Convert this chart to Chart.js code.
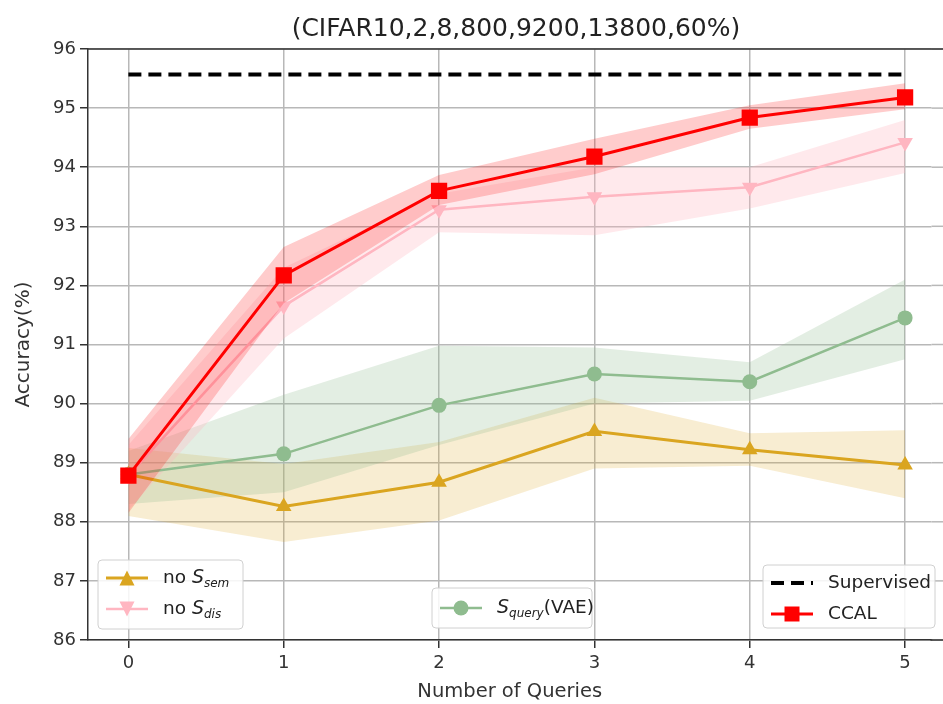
<!DOCTYPE html>
<html>
<head>
<meta charset="utf-8">
<script src="https://cdn.jsdelivr.net/npm/chart.js@4/dist/chart.umd.min.js"></script>
<style>
  html, body { margin: 0; padding: 0; background: #fff; }
  #wrap { width: 943px; height: 704px; position: relative; }
</style>
</head>
<body>
<div id="wrap"><canvas id="accChart"></canvas></div>
<script>
/* accuracy vs number of queries */
const queries = [0, 1, 2, 3, 4, 5];
const xTicks = [0, 1, 2, 3, 4, 5];
const yTicks = [86, 87, 88, 89, 90, 91, 92, 93, 94, 95, 96];

const ccal   = [88.78, 92.17, 93.60, 94.18, 94.84, 95.18];
const ccalHi = [89.40, 92.65, 93.87, 94.48, 95.05, 95.42];
const ccalLo = [88.15, 91.70, 93.36, 93.88, 94.65, 94.98];

const noDis   = [88.78, 91.65, 93.28, 93.50, 93.66, 94.42];
const noDisHi = [89.30, 92.30, 93.55, 94.00, 94.00, 94.80];
const noDisLo = [88.20, 91.10, 92.90, 92.85, 93.30, 93.90];

const noSem   = [88.80, 88.26, 88.67, 89.53, 89.22, 88.96];
const noSemHi = [89.25, 88.98, 89.35, 90.10, 89.50, 89.55];
const noSemLo = [88.10, 87.66, 88.02, 88.90, 88.95, 88.40];

const sQuery   = [88.80, 89.15, 89.97, 90.50, 90.37, 91.45];
const sQueryHi = [89.20, 90.15, 90.98, 90.95, 90.70, 92.10];
const sQueryLo = [88.30, 88.50, 89.30, 90.00, 90.05, 90.75];

const supervised = [95.57, 95.57, 95.57, 95.57, 95.57, 95.57];

const FONT = 'DejaVu Sans';
const pts = arr => queries.map((q, i) => ({ x: q, y: arr[i] }));

function lineSet(label, arr, color, style, extra) {
  return Object.assign({
    label: label,
    data: pts(arr),
    borderColor: color,
    backgroundColor: color,
    borderWidth: 2.5,
    pointStyle: style,
    pointRadius: 8,
    pointBorderWidth: 0,
    fill: false,
    tension: 0
  }, extra || {});
}

function bandSets(hi, lo, color, order) {
  return [
    { data: pts(hi), borderWidth: 0, pointRadius: 0, fill: { target: '+1' }, backgroundColor: color, order: order },
    { data: pts(lo), borderWidth: 0, pointRadius: 0, fill: false, order: order }
  ];
}

const datasets = [
  ...bandSets(noSemHi, noSemLo, 'rgba(218,165,32,0.2)', 20),
  ...bandSets(sQueryHi, sQueryLo, 'rgba(143,188,143,0.25)', 19),
  ...bandSets(noDisHi, noDisLo, 'rgba(255,182,193,0.3)', 18),
  lineSet('no Ssem', noSem, '#daa520', 'triangle', { order: 10, borderWidth: 3, pointRadius: 9 }),
  lineSet('Squery(VAE)', sQuery, '#8fbc8f', 'circle', { order: 9, pointRadius: 7.5 }),
  lineSet('no Sdis', noDis, '#ffb6c1', 'triangle', { order: 8, pointRotation: 180, pointRadius: 9 }),
  ...bandSets(ccalHi, ccalLo, 'rgba(255,0,0,0.2)', 7),
  lineSet('Supervised', supervised, '#000', false, { order: 2, borderWidth: 4, borderDash: [13, 7], pointRadius: 0 }),
  lineSet('CCAL', ccal, '#ff0000', 'rect', { order: 1, borderWidth: 3, pointRadius: 11.5 })
];

// legend boxes, drawn by hand (three separate boxes like the original)
const legendBoxes = [
  { x: 10, top: 80, w: 145, h: 69, items: [
    { parts: [['no ', 0], ['S', 1], ['sem', 2]], color: '#daa520', marker: 'up' },
    { parts: [['no ', 0], ['S', 1], ['dis', 2]], color: '#ffb6c1', marker: 'down' }
  ]},
  { x: 344, top: 52, w: 160, h: 40, items: [
    { parts: [['S', 1], ['query', 2], ['(VAE)', 0]], color: '#8fbc8f', marker: 'circle' }
  ]},
  { x: 675, top: 75, w: 172, h: 63, items: [
    { parts: [['Supervised', 0]], color: '#000', marker: 'dash' },
    { parts: [['CCAL', 0]], color: '#ff0000', marker: 'rect' }
  ]}
];

function drawMarker(ctx, kind, x, y, s, color) {
  ctx.fillStyle = color;
  ctx.beginPath();
  if (kind === 'rect') ctx.rect(x - s / 2, y - s / 2, s, s);
  else if (kind === 'circle') ctx.arc(x, y, s / 2, 0, Math.PI * 2);
  else if (kind === 'up') { ctx.moveTo(x, y - s / 2); ctx.lineTo(x + s / 2, y + s / 2); ctx.lineTo(x - s / 2, y + s / 2); }
  else if (kind === 'down') { ctx.moveTo(x, y + s / 2); ctx.lineTo(x + s / 2, y - s / 2); ctx.lineTo(x - s / 2, y - s / 2); }
  ctx.closePath();
  ctx.fill();
}

function roundRect(ctx, x, y, w, h, r) {
  ctx.beginPath();
  ctx.moveTo(x + r, y);
  ctx.arcTo(x + w, y, x + w, y + h, r);
  ctx.arcTo(x + w, y + h, x, y + h, r);
  ctx.arcTo(x, y + h, x, y, r);
  ctx.arcTo(x, y, x + w, y, r);
  ctx.closePath();
}

const extrasPlugin = {
  id: 'extras',
  beforeDatasetsDraw(chart) {
    // the original plot is cropped on the right: carry grid lines to the edge
    const ctx = chart.ctx, ca = chart.chartArea, ys = chart.scales.y;
    ctx.save();
    ctx.strokeStyle = '#b8b8b8';
    ctx.lineWidth = 1.5;
    yTicks.forEach(v => {
      const y = ys.getPixelForValue(v);
      ctx.beginPath();
      ctx.moveTo(ca.right, y);
      ctx.lineTo(chart.width, y);
      ctx.stroke();
    });
    ctx.restore();
  },
  afterDraw(chart) {
    const ctx = chart.ctx;
    const ca = chart.chartArea;
    const xs = chart.scales.x;
    ctx.save();
    // top frame line and bottom axis run to the cropped right edge
    ctx.strokeStyle = '#333';
    ctx.lineWidth = 1.5;
    ctx.beginPath();
    ctx.moveTo(ca.left, ca.top);
    ctx.lineTo(chart.width, ca.top);
    ctx.moveTo(ca.right - 1, ca.bottom);
    ctx.lineTo(chart.width, ca.bottom);
    ctx.stroke();
    // title
    ctx.fillStyle = '#222';
    ctx.font = '25px ' + FONT;
    ctx.textAlign = 'center';
    ctx.textBaseline = 'middle';
    ctx.fillText('(CIFAR10,2,8,800,9200,13800,60%)', (ca.left + xs.getPixelForValue(5.25)) / 2, 29);

    // legends
    legendBoxes.forEach(b => {
      const bx = ca.left + b.x, by = ca.bottom - b.top;
      ctx.globalAlpha = 0.85;
      ctx.fillStyle = '#fff';
      roundRect(ctx, bx, by, b.w, b.h, 4);
      ctx.fill();
      ctx.globalAlpha = 1;
      ctx.strokeStyle = '#d0d0d0';
      ctx.lineWidth = 1;
      ctx.stroke();
      b.items.forEach((it, k) => {
        const y = by + (b.items.length === 1 ? b.h / 2 : 18 + k * 31);
        const lx = bx + 8;
        ctx.strokeStyle = it.color;
        if (it.marker === 'dash') {
          ctx.lineWidth = 4;
          ctx.setLineDash([13, 7]);
        } else {
          ctx.lineWidth = it.marker === 'rect' || it.marker === 'up' ? 3 : 2.5;
          ctx.setLineDash([]);
        }
        ctx.beginPath();
        ctx.moveTo(lx, y);
        ctx.lineTo(lx + 42, y);
        ctx.stroke();
        ctx.setLineDash([]);
        if (it.marker !== 'dash') drawMarker(ctx, it.marker, lx + 21, y, 15, it.color);
        let tx = lx + 57;
        ctx.textAlign = 'left';
        ctx.textBaseline = 'middle';
        ctx.fillStyle = '#222';
        it.parts.forEach(p => {
          const [t, kind] = p;
          if (kind === 0) { ctx.font = '18.5px ' + FONT; ctx.fillText(t, tx, y); }
          else if (kind === 1) { ctx.font = 'italic 19px ' + FONT; ctx.fillText(t, tx, y); }
          else { ctx.font = 'italic 12px ' + FONT; ctx.fillText(t, tx, y + 6); }
          tx += ctx.measureText(t).width;
        });
      });
    });
    ctx.restore();
  }
};

new Chart(document.getElementById('accChart'), {
  type: 'line',
  data: { datasets },
  plugins: [extrasPlugin],
  options: {
    responsive: true,
    maintainAspectRatio: false,
    animation: false,
    layout: { padding: { top: 49, right: 0, left: 0, bottom: 0 } },
    plugins: {
      legend: { display: false },
      tooltip: { enabled: false }
    },
    scales: {
      x: {
        type: 'linear',
        min: -0.26,
        max: 5.17,
        afterBuildTicks: s => { s.ticks = xTicks.map(v => ({ value: v })); },
        afterFit: s => { s.height = 64; },
        ticks: { color: '#333', font: { family: FONT, size: 18 }, padding: 5 },
        grid: { color: '#b8b8b8', lineWidth: 1.5, tickLength: 8, tickColor: '#333' },
        border: { color: '#333', width: 1.5 },
        title: { display: true, text: 'Number of Queries', color: '#333', font: { family: FONT, size: 19.5 }, padding: { top: 0, bottom: 0 } }
      },
      y: {
        min: 86,
        max: 96,
        afterBuildTicks: s => { s.ticks = yTicks.map(v => ({ value: v })); },
        afterFit: s => { s.width = 88; },
        ticks: { color: '#333', font: { family: FONT, size: 18 }, padding: 4 },
        grid: { color: '#b8b8b8', lineWidth: 1.5, tickLength: 8, tickColor: '#333' },
        border: { color: '#333', width: 1.5 },
        title: { display: true, text: 'Accuracy(%)', color: '#333', font: { family: FONT, size: 20 }, padding: { top: 12, bottom: 0 } }
      }
    }
  }
});
</script>
</body>
</html>
